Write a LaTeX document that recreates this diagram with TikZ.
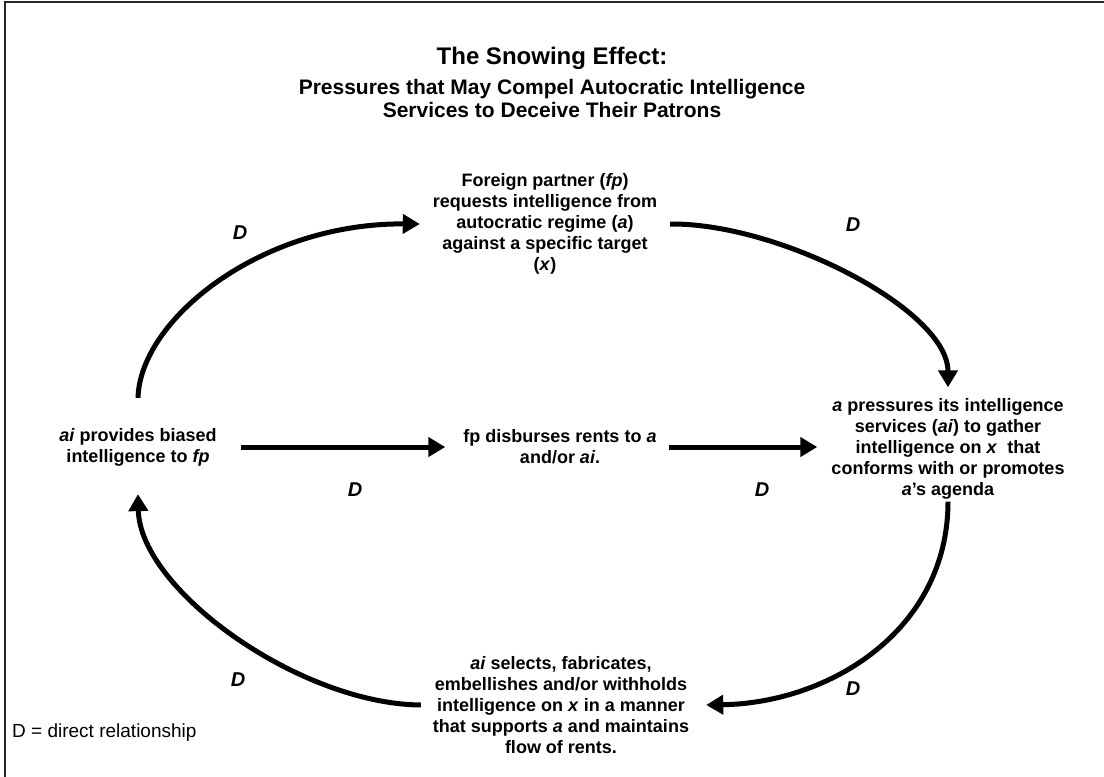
\documentclass[tikz,border=0pt]{standalone}
\usepackage{fontspec}
\setmainfont{Liberation Sans}
\usetikzlibrary{arrows.meta}

\begin{document}
\begin{tikzpicture}[x=1pt,y=-1pt,
  box/.style={font=\bfseries\fontsize{18}{21}\selectfont, align=center, inner sep=2pt},
  flow/.style={line width=5pt, -{Triangle[length=17pt,width=19pt]}},
  dlab/.style={font=\bfseries\itshape\fontsize{20}{22}\selectfont}]
\useasboundingbox (0,0) rectangle (1104,777);
\fill[white] (0,0) rectangle (1104,777);
% frame edges
\draw[line width=1.5pt, black!85] (5,777) -- (5,2) -- (1104,2);

% headings
\node[font=\bfseries\fontsize{24}{28}\selectfont] (title) at (552,58) {The Snowing Effect:};
\node[font=\bfseries\fontsize{21}{23}\selectfont, align=center] (sub) at (552,98)
  {Pressures that May Compel Autocratic Intelligence\\Services to Deceive Their Patrons};

% stages of the cycle
\node[box] (top) at (545,224) {Foreign partner (\textit{fp})\\requests intelligence from\\autocratic regime (\textit{a})\\against a specific target\\(\textit{x})};
\node[box] (left) at (138,447) {\textit{ai} provides biased\\intelligence to \textit{fp}};
\node[box] (mid) at (560,447) {fp disburses rents to \textit{a}\\and/or \textit{ai}.};
\node[box] (right) at (948,449) {\textit{a} pressures its intelligence\\services (\textit{ai}) to gather\\intelligence on \textit{x}\ \ that\\conforms with or promotes\\\textit{a}’s agenda};
\node[box] (bottom) at (561,705) {\textit{ai} selects, fabricates,\\embellishes and/or withholds\\intelligence on \textit{x} in a manner\\that supports \textit{a} and maintains\\flow of rents.};

% connectors
\draw[flow] ([yshift=28pt]left.north) .. controls (140,320) and (260,223) .. ([xshift=-11pt]top.west);
\draw[flow] ([xshift=11pt]top.east) .. controls (780,223) and (948,310) .. ([yshift=9pt]right.north);
\draw[flow] (right.south) .. controls (948,630) and (830,703) .. ([xshift=15pt]bottom.east);
\draw[flow] ([xshift=-10pt]bottom.west) .. controls (300,704) and (140,590) .. ([yshift=-26pt]left.south);
\draw[flow] ([xshift=22pt]left.east) -- ([xshift=-16pt]mid.west);
\draw[flow] ([xshift=10pt]mid.east) -- ([xshift=-12pt]right.west |- mid.east);

% relationship labels
\node[dlab] (d1) at (240,233) {D};
\node[dlab] (d2) at (853,225) {D};
\node[dlab] (d3) at (355,490) {D};
\node[dlab] (d4) at (762,490) {D};
\node[dlab] (d5) at (238,680) {D};
\node[dlab] (d6) at (853,689) {D};

% legend
\node[anchor=west, font=\fontsize{19}{22}\selectfont, inner sep=0pt] (legend) at (12,733) {D = direct relationship};
\end{tikzpicture}
\end{document}
